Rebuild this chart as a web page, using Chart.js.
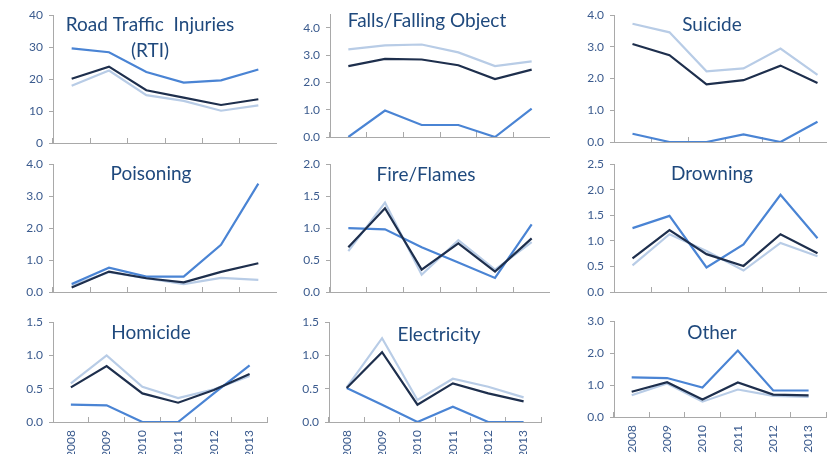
<!DOCTYPE html>
<html lang="en">
<head>
<meta charset="UTF-8">
<title>Injury rates by cause, 2008-2013</title>
<script src="https://cdn.jsdelivr.net/npm/chart.js"></script>
<style>
  html, body { margin: 0; padding: 0; background: #fff; overflow: hidden; width: 827px; height: 454px; }
  canvas { position: absolute; }
</style>
</head>
<body>
<script>
// categories
const years = ['2008', '2009', '2010', '2011', '2012', '2013'];

// series per panel: blue, navy, light
const rtiBlue  = [29.6, 28.4, 22.2, 18.9, 19.6, 23.0];
const rtiNavy  = [20.1, 23.9, 16.5, 14.2, 11.9, 13.7];
const rtiLight = [17.9, 22.7, 15.0, 13.2, 10.1, 11.8];

const fallsBlue  = [0, 0.97, 0.44, 0.44, 0, 1.04];
const fallsNavy  = [2.60, 2.86, 2.84, 2.63, 2.12, 2.47];
const fallsLight = [3.21, 3.36, 3.39, 3.10, 2.60, 2.77];

const suicideBlue  = [0.26, 0, 0, 0.24, 0, 0.64];
const suicideNavy  = [3.09, 2.74, 1.82, 1.95, 2.41, 1.86];
const suicideLight = [3.73, 3.46, 2.23, 2.32, 2.95, 2.12];

const poisonBlue  = [0.25, 0.76, 0.48, 0.48, 1.48, 3.39];
const poisonNavy  = [0.14, 0.64, 0.43, 0.30, 0.63, 0.90];
const poisonLight = [0.20, 0.62, 0.43, 0.25, 0.44, 0.38];

const fireBlue  = [1.00, 0.98, 0.70, 0.46, 0.22, 1.06];
const fireNavy  = [0.70, 1.31, 0.35, 0.76, 0.32, 0.84];
const fireLight = [0.64, 1.40, 0.27, 0.81, 0.35, 0.78];

const drownBlue  = [1.25, 1.49, 0.48, 0.93, 1.90, 1.05];
const drownNavy  = [0.66, 1.21, 0.74, 0.51, 1.13, 0.76];
const drownLight = [0.52, 1.13, 0.80, 0.42, 0.96, 0.70];

const homBlue  = [0.26, 0.25, 0, 0, 0.43, 0.85];
const homNavy  = [0.52, 0.84, 0.43, 0.29, 0.48, 0.72];
const homLight = [0.58, 1.00, 0.53, 0.36, 0.49, 0.69];

const elecBlue  = [0.51, 0.26, 0, 0.23, 0, 0];
const elecNavy  = [0.51, 1.05, 0.26, 0.58, 0.43, 0.31];
const elecLight = [0.52, 1.26, 0.33, 0.65, 0.53, 0.37];

const otherBlue  = [1.24, 1.22, 0.92, 2.08, 0.83, 0.83];
const otherNavy  = [0.79, 1.09, 0.55, 1.08, 0.70, 0.68];
const otherLight = [0.68, 1.05, 0.48, 0.86, 0.66, 0.63];

// y axis tick settings per panel
const rtiTicks     = { max: 40,  step: 10,  decimals: 0 };
const fallsTicks   = { max: 4.5, step: 1,   decimals: 1 };
const suicideTicks = { max: 4,   step: 1,   decimals: 1 };
const poisonTicks  = { max: 4,   step: 1,   decimals: 1 };
const fireTicks    = { max: 2,   step: 0.5, decimals: 1 };
const drownTicks   = { max: 2.5, step: 0.5, decimals: 1 };
const homTicks     = { max: 1.5, step: 0.5, decimals: 1 };
const elecTicks    = { max: 1.5, step: 0.5, decimals: 1 };
const otherTicks   = { max: 3,   step: 1,   decimals: 1 };

const blue = '#4a84d4';
const navy = '#1e2f4d';
const light = '#b8cce6';
const axisGrey = '#a9a9a9';
const tickColor = '#3b5b8e';
const titleColor = '#1f497d';

const Y_W = 50, PAD_T = 12, X_H = 40;

// box = plot area in page pixels: left, right, top, bottom; title centre in page pixels
const panels = [
  { title: ['Road Traffic  Injuries', '(RTI)'], tx: 150, ty: 25, data: [rtiNavy, rtiBlue, rtiLight], t: rtiTicks,
    box: [53, 277, 14, 143], bottom: false },
  { title: ['Falls/Falling Object'], tx: 427, ty: 21, data: [fallsNavy, fallsBlue, fallsLight], t: fallsTicks,
    box: [330, 550, 13, 137], bottom: false },
  { title: ['Suicide'], tx: 712, ty: 25, data: [suicideNavy, suicideBlue, suicideLight], t: suicideTicks,
    box: [614, 836, 14, 142], bottom: false },
  { title: ['Poisoning'], tx: 151, ty: 174, data: [poisonNavy, poisonBlue, poisonLight], t: poisonTicks,
    box: [53, 277, 163, 292], bottom: false },
  { title: ['Fire/Flames'], tx: 426, ty: 175, data: [fireNavy, fireBlue, fireLight], t: fireTicks,
    box: [330, 550, 163, 292], bottom: false },
  { title: ['Drowning'], tx: 712, ty: 174, data: [drownNavy, drownBlue, drownLight], t: drownTicks,
    box: [614, 836, 163, 292], bottom: false },
  { title: ['Homicide'], tx: 151, ty: 333, data: [homNavy, homBlue, homLight], t: homTicks,
    box: [53, 277, 321, 422], bottom: true },
  { title: ['Electricity'], tx: 439, ty: 335, data: [elecNavy, elecBlue, elecLight], t: elecTicks,
    box: [329, 551, 321, 422], bottom: true },
  { title: ['Other'], tx: 712, ty: 333, data: [otherNavy, otherBlue, otherLight], t: otherTicks,
    box: [614, 836, 320, 417], bottom: true }
];

const titlePlugin = {
  id: 'panelTitle',
  afterDraw(chart, args, opts) {
    const ctx = chart.ctx;
    ctx.save();
    ctx.font = '19px Lato';
    ctx.fillStyle = titleColor;
    ctx.textAlign = 'center';
    ctx.textBaseline = 'middle';
    opts.lines.forEach((line, i) => ctx.fillText(line, opts.x, opts.y + i * 26));
    ctx.restore();
  }
};

panels.forEach(p => {
  const [L, R, T, B] = p.box;
  const left = L - Y_W, top = T - PAD_T;
  const w = R - left, h = B - top + X_H;

  const canvas = document.createElement('canvas');
  canvas.width = w;
  canvas.height = h;
  canvas.style.left = left + 'px';
  canvas.style.top = top + 'px';
  document.body.appendChild(canvas);

  const colors = [navy, blue, light];
  new Chart(canvas, {
    type: 'line',
    data: {
      labels: years,
      datasets: p.data.map((d, i) => ({
        data: d,
        borderColor: colors[i],
        borderWidth: 2.2,
        pointRadius: 0,
        fill: false,
        tension: 0
      }))
    },
    options: {
      responsive: false,
      animation: false,
      layout: { autoPadding: false, padding: { top: PAD_T, left: 0, right: 0, bottom: 0 } },
      plugins: {
        legend: { display: false },
        tooltip: { enabled: false },
        panelTitle: { lines: p.title, x: p.tx - left, y: p.ty - top }
      },
      scales: {
        x: {
          type: 'category',
          offset: true,
          grid: { offset: true, drawOnChartArea: false, tickLength: -5, color: axisGrey },
          border: { color: axisGrey },
          ticks: {
            display: p.bottom,
            minRotation: 90,
            maxRotation: 90,
            autoSkip: false,
            padding: 13,
            color: tickColor,
            font: { family: 'Lato', size: 12 }
          },
          afterFit: s => { s.height = X_H; }
        },
        y: {
          min: 0,
          max: p.t.max,
          grid: { drawOnChartArea: false, tickLength: 4, color: axisGrey },
          border: { color: axisGrey },
          ticks: {
            stepSize: p.t.step,
            padding: 6,
            color: tickColor,
            font: { family: 'Lato', size: 12 },
            callback: v => v.toFixed(p.t.decimals)
          },
          afterBuildTicks: s => {
            s.ticks = s.ticks.filter(tk => Math.abs(tk.value / p.t.step - Math.round(tk.value / p.t.step)) < 1e-6);
          },
          afterFit: s => { s.width = Y_W; }
        }
      }
    },
    plugins: [titlePlugin]
  });
});
</script>
</body>
</html>
